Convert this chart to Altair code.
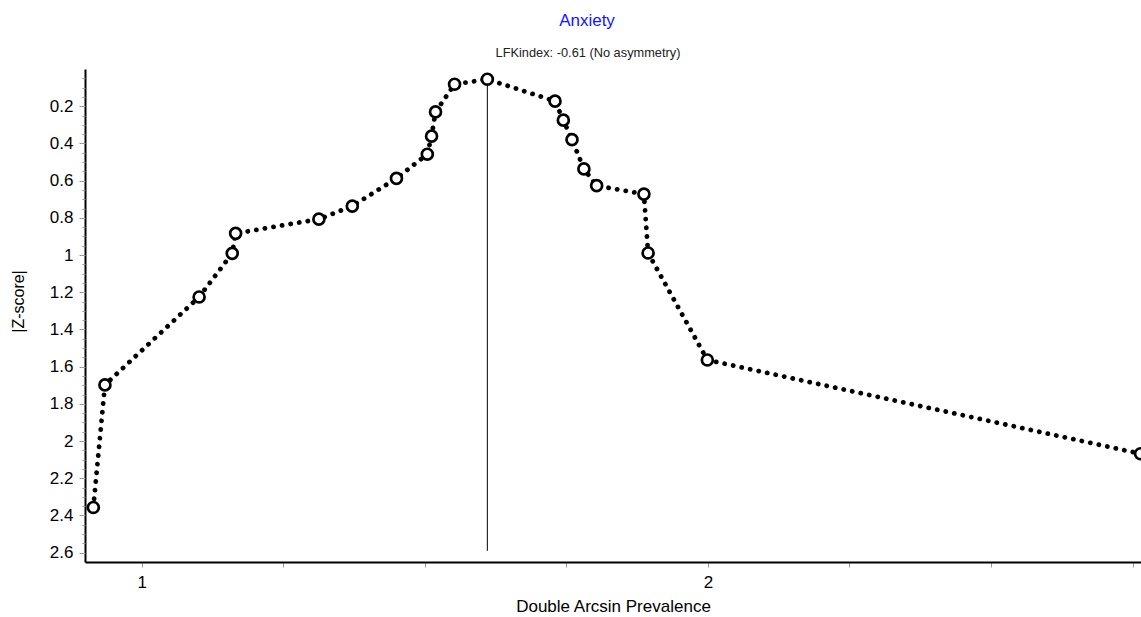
import altair as alt
import pandas as pd

# Doi plot for the anxiety studies: double-arcsine prevalence vs |Z-score|
prevalence = [0.9147, 0.9352, 1.1015, 1.160, 1.166, 1.313, 1.372, 1.450, 1.5045,
              1.512, 1.519, 1.5526, 1.6105, 1.730, 1.7447, 1.760, 1.781, 1.8035,
              1.887, 1.8944, 1.999, 2.764]
z_score = [2.357, 1.698, 1.2255, 0.991, 0.8835, 0.807, 0.737, 0.588, 0.458,
           0.361, 0.2306, 0.0819, 0.055, 0.173, 0.275, 0.380, 0.537, 0.627,
           0.6725, 0.989, 1.564, 2.068]

title_text = "Anxiety"
subtitle_text = "LFKindex: -0.61 (No asymmetry)"
x_ticks = [1.0, 1.25, 1.5, 1.75, 2.0, 2.25, 2.5, 2.75]
y_major = [0.2, 0.4, 0.6, 0.8, 1.0, 1.2, 1.4, 1.6, 1.8, 2.0, 2.2, 2.4, 2.6]
y_minor = [round(i * 0.05, 2) for i in range(1, 53)]
mode_bottom = 2.59

df = pd.DataFrame({"x": prevalence, "z": z_score})
peak = df.loc[df["z"].idxmin()]
rule_df = pd.DataFrame({"x": [peak["x"]], "z": [peak["z"]], "z2": [mode_bottom]})

FONT = "Liberation Sans"
x_scale = alt.Scale(domain=[0.9, 2.7648], nice=False, zero=False)
y_scale = alt.Scale(domain=[0, 2.65], reverse=True, nice=False, zero=False)

x_axis = alt.Axis(
    title="Double Arcsin Prevalence", values=x_ticks,
    labelExpr="datum.value % 1 == 0 ? format(datum.value, 'd') : ''",
    grid=False, domainColor="black", domainWidth=2,
    tickColor="#9a9a9a", tickSize=5, tickWidth=1,
    labelFont=FONT, labelFontSize=17, labelColor="black", labelPadding=7,
    titleFont=FONT, titleFontSize=17, titleFontWeight="normal",
    titleColor="black", titlePadding=8,
)
x_enc = alt.X("x:Q", scale=x_scale, axis=x_axis)

y_major_axis = alt.Axis(
    title="|Z-score|", values=y_major, format="~g", orient="left",
    grid=False, domainColor="black", domainWidth=2,
    tickColor="#9a9a9a", tickSize=6, tickWidth=1,
    labelFont=FONT, labelFontSize=17, labelColor="black", labelPadding=6,
    titleFont=FONT, titleFontSize=16, titleFontWeight="normal",
    titleColor="black", titleX=-59, titleY=232,
)
y_minor_axis = alt.Axis(
    title=None, values=y_minor, labels=False, orient="left",
    grid=False, domain=False, tickColor="#9a9a9a", tickSize=3, tickWidth=1,
)

# dotted connecting line, carries the main axes
line = alt.Chart(df).mark_line(
    color="black", strokeWidth=4.8, strokeDash=[0.1, 8.6], strokeCap="round"
).encode(x=x_enc, y=alt.Y("z:Q", scale=y_scale, axis=y_major_axis))

# invisible layer that only supplies the minor y ticks
minor = alt.Chart(df).mark_point(opacity=0).encode(
    x=x_enc,
    y=alt.Y("z:Q", scale=y_scale, axis=y_minor_axis),
)

rule = alt.Chart(rule_df).mark_rule(color="black", strokeWidth=1).encode(
    x=x_enc,
    y=alt.Y("z:Q", scale=y_scale, axis=None),
    y2="z2:Q",
)

points = alt.Chart(df).mark_point(
    shape="circle", fill="white", fillOpacity=1, stroke="black",
    strokeWidth=2.7, size=120, opacity=1,
).encode(x=x_enc, y=alt.Y("z:Q", scale=y_scale, axis=None))

title_df = pd.DataFrame({"t": [title_text]})
subtitle_df = pd.DataFrame({"t": [subtitle_text]})
title = alt.Chart(title_df).mark_text(
    font=FONT, fontSize=17, color="#1414ff", align="center", baseline="middle"
).encode(text="t:N", x=alt.value(502), y=alt.value(-48))
subtitle = alt.Chart(subtitle_df).mark_text(
    font=FONT, fontSize=12.8, color="#222222", align="center", baseline="middle"
).encode(text="t:N", x=alt.value(503), y=alt.value(-16))

chart = alt.layer(line, minor, rule, points, title, subtitle).resolve_axis(
    y="independent"
).properties(
    width=1056, height=493,
    padding={"left": 85, "top": 69, "right": 0, "bottom": 55},
    autosize=alt.AutoSizeParams(type="none"),
    background="white",
).configure_view(strokeWidth=0, stroke="transparent")

chart.save("out.html", embed_options={"renderer": "svg", "actions": False})
